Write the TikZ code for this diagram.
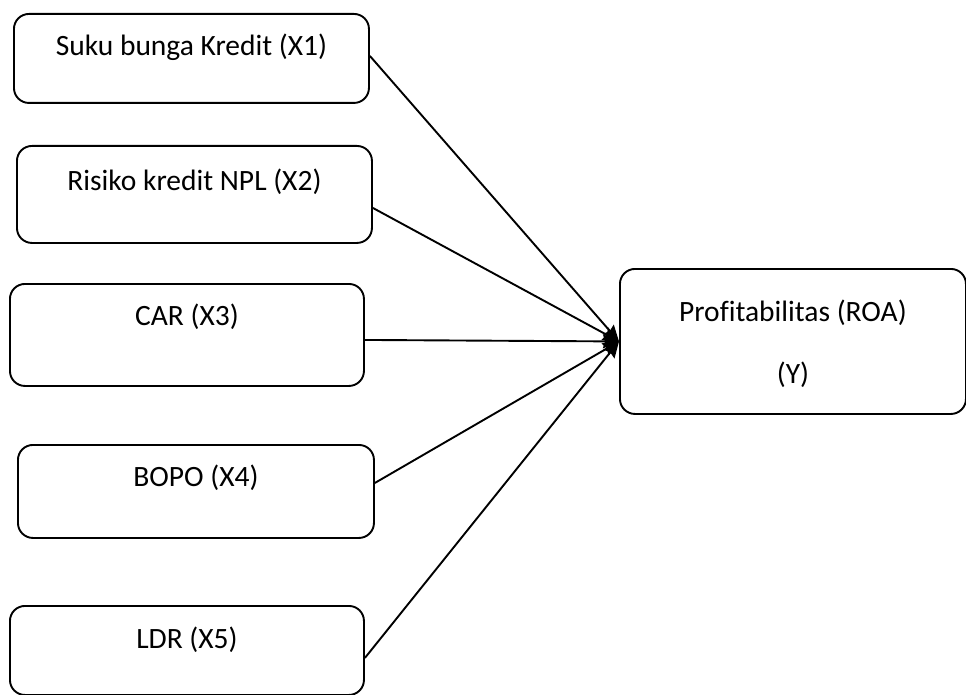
\documentclass[tikz,border=0pt]{standalone}
\usepackage{fontspec}
\setmainfont{Carlito}[Ligatures=NoCommon]
\usetikzlibrary{arrows.meta}
\begin{document}
\begin{tikzpicture}[x=1pt,y=-1pt,
  box/.style={draw=black,line width=1.9pt,rounded corners=15pt,inner sep=0pt,anchor=north west},
  lbl/.style={font=\fontsize{29.5}{34}\selectfont,inner sep=0pt,anchor=center},
  conn/.style={draw=black,line width=1.9pt,-{Stealth[length=16pt,width=14pt,inset=2pt]}}]
\useasboundingbox (0,0) rectangle (966,695);
\node[box,minimum width=355pt,minimum height=89pt] (x1) at (13,13) {};
\node[box,minimum width=355pt,minimum height=97pt] (x2) at (16,145) {};
\node[box,minimum width=354pt,minimum height=102pt] (x3) at (9,283) {};
\node[box,minimum width=356pt,minimum height=93pt] (x4) at (17,444) {};
\node[box,minimum width=354pt,minimum height=89pt] (x5) at (9,605) {};
\node[box,minimum width=346pt,minimum height=145pt] (y) at (619,268) {};
\node[lbl] (t1) at ([yshift=-34pt]x1.north) {Suku bunga Kredit (X1)};
\node[lbl] (t2) at ([yshift=-37pt]x2.north) {Risiko kredit NPL (X2)};
\node[lbl] (t3) at ([yshift=-34pt]x3.north) {CAR (X3)};
\node[lbl] (t4) at ([yshift=-34pt]x4.north) {BOPO (X4)};
\node[lbl] (t5) at ([yshift=-35pt]x5.north) {LDR (X5)};
\node[lbl] (ty1) at ([yshift=-45pt]y.north) {Profitabilitas (ROA)};
\node[lbl] (ty2) at ([yshift=-107pt]y.north) {(Y)};
\draw[conn] ([yshift=2.5pt]x1.east) -- (y.west);
\draw[conn] ([yshift=-13.5pt]x2.east) -- (y.west);
\draw[conn] ([yshift=-5pt]x3.east) -- (y.west);
\draw[conn] ([yshift=8.5pt]x4.east) -- (y.west);
\draw[conn] ([yshift=-7.5pt]x5.east) -- (y.west);
\end{tikzpicture}
\end{document}
